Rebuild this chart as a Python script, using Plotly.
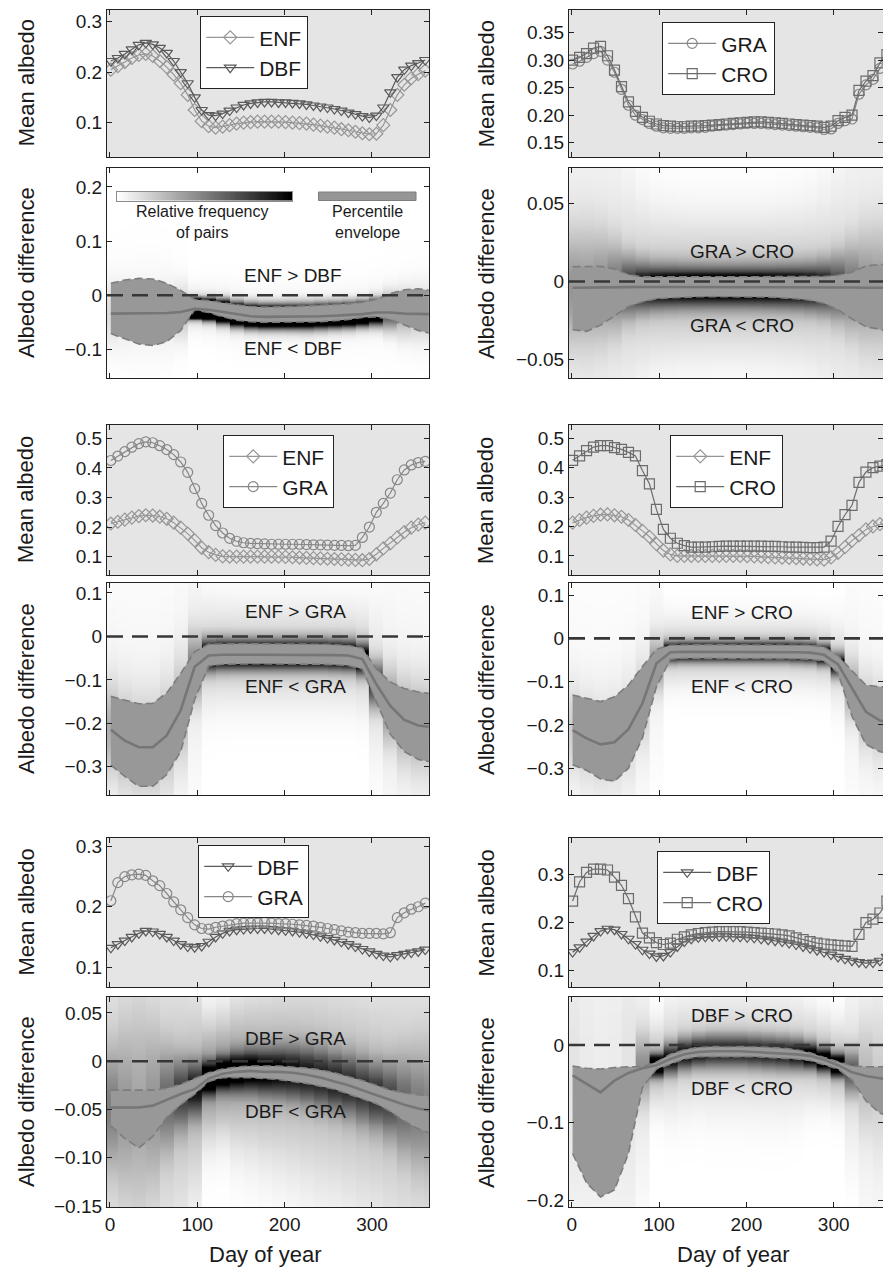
import numpy as np
import plotly.graph_objects as go

# ---------------- data ----------------
DAYS = [1, 9, 17, 25, 33, 41, 49, 57, 65, 73, 81, 89, 97, 105, 113, 121, 129, 137, 145, 153,
        161, 169, 177, 185, 193, 201, 209, 217, 225, 233, 241, 249, 257, 265, 273, 281, 289,
        297, 305, 313, 321, 329, 337, 345, 353, 361]

enf_1 = [0.205, 0.212, 0.220, 0.228, 0.234, 0.236, 0.232, 0.222, 0.210, 0.195, 0.178, 0.155, 0.125, 0.103, 0.093, 0.090, 0.092, 0.095, 0.098, 0.100, 0.101, 0.102, 0.102, 0.102, 0.102, 0.101, 0.100, 0.099, 0.098, 0.096, 0.094, 0.092, 0.090, 0.087, 0.085, 0.082, 0.079, 0.077, 0.078, 0.095, 0.125, 0.155, 0.175, 0.188, 0.196, 0.203]
dbf_1 = [0.222, 0.228, 0.236, 0.245, 0.254, 0.258, 0.255, 0.248, 0.238, 0.222, 0.200, 0.178, 0.150, 0.125, 0.115, 0.114, 0.118, 0.124, 0.130, 0.135, 0.138, 0.140, 0.141, 0.141, 0.140, 0.140, 0.139, 0.138, 0.136, 0.134, 0.132, 0.130, 0.127, 0.124, 0.120, 0.117, 0.113, 0.110, 0.114, 0.130, 0.160, 0.190, 0.205, 0.213, 0.218, 0.224]
gra_2 = [0.293, 0.298, 0.305, 0.312, 0.316, 0.300, 0.278, 0.247, 0.218, 0.200, 0.192, 0.185, 0.180, 0.177, 0.176, 0.176, 0.176, 0.177, 0.177, 0.178, 0.180, 0.181, 0.182, 0.183, 0.184, 0.185, 0.185, 0.185, 0.184, 0.183, 0.182, 0.181, 0.180, 0.179, 0.178, 0.177, 0.174, 0.175, 0.185, 0.190, 0.193, 0.238, 0.255, 0.265, 0.285, 0.300]
cro_2 = [0.300, 0.305, 0.312, 0.322, 0.325, 0.308, 0.282, 0.252, 0.224, 0.207, 0.196, 0.189, 0.184, 0.181, 0.180, 0.179, 0.179, 0.180, 0.180, 0.181, 0.182, 0.183, 0.184, 0.185, 0.186, 0.187, 0.188, 0.188, 0.187, 0.186, 0.185, 0.184, 0.183, 0.182, 0.181, 0.180, 0.178, 0.180, 0.190, 0.196, 0.200, 0.245, 0.262, 0.272, 0.295, 0.310]
enf_3 = [0.212, 0.218, 0.225, 0.232, 0.237, 0.240, 0.239, 0.235, 0.228, 0.215, 0.198, 0.178, 0.155, 0.130, 0.115, 0.106, 0.101, 0.100, 0.100, 0.100, 0.100, 0.100, 0.100, 0.100, 0.100, 0.099, 0.098, 0.097, 0.096, 0.095, 0.094, 0.093, 0.092, 0.091, 0.090, 0.089, 0.088, 0.092, 0.108, 0.128, 0.145, 0.165, 0.183, 0.198, 0.208, 0.215]
gra_3 = [0.425, 0.440, 0.455, 0.470, 0.482, 0.488, 0.485, 0.475, 0.462, 0.445, 0.420, 0.385, 0.330, 0.280, 0.240, 0.205, 0.180, 0.162, 0.152, 0.147, 0.145, 0.144, 0.143, 0.142, 0.142, 0.142, 0.142, 0.142, 0.141, 0.140, 0.140, 0.139, 0.138, 0.138, 0.137, 0.138, 0.165, 0.200, 0.250, 0.280, 0.315, 0.360, 0.393, 0.410, 0.418, 0.422]
enf_4 = [0.213, 0.222, 0.230, 0.236, 0.240, 0.241, 0.238, 0.233, 0.222, 0.205, 0.185, 0.165, 0.140, 0.118, 0.105, 0.100, 0.100, 0.100, 0.100, 0.100, 0.100, 0.100, 0.100, 0.100, 0.100, 0.099, 0.098, 0.097, 0.096, 0.095, 0.094, 0.093, 0.092, 0.091, 0.090, 0.088, 0.087, 0.095, 0.110, 0.130, 0.152, 0.170, 0.190, 0.200, 0.208, 0.213]
cro_4 = [0.425, 0.440, 0.458, 0.470, 0.475, 0.475, 0.468, 0.462, 0.452, 0.440, 0.390, 0.345, 0.258, 0.190, 0.160, 0.143, 0.135, 0.130, 0.130, 0.130, 0.131, 0.132, 0.133, 0.133, 0.133, 0.133, 0.133, 0.133, 0.132, 0.132, 0.131, 0.130, 0.130, 0.129, 0.128, 0.128, 0.130, 0.150, 0.200, 0.240, 0.272, 0.350, 0.385, 0.400, 0.405, 0.410]
dbf_5 = [0.132, 0.138, 0.144, 0.150, 0.156, 0.160, 0.159, 0.155, 0.150, 0.144, 0.138, 0.134, 0.133, 0.135, 0.142, 0.150, 0.156, 0.160, 0.162, 0.163, 0.164, 0.164, 0.164, 0.163, 0.162, 0.161, 0.160, 0.158, 0.156, 0.154, 0.151, 0.148, 0.145, 0.142, 0.138, 0.134, 0.130, 0.126, 0.122, 0.119, 0.117, 0.120, 0.122, 0.124, 0.126, 0.129]
gra_5 = [0.210, 0.240, 0.250, 0.253, 0.254, 0.252, 0.243, 0.235, 0.222, 0.208, 0.195, 0.182, 0.170, 0.164, 0.163, 0.166, 0.168, 0.170, 0.172, 0.173, 0.173, 0.173, 0.174, 0.173, 0.172, 0.172, 0.171, 0.170, 0.169, 0.168, 0.166, 0.164, 0.162, 0.160, 0.158, 0.157, 0.156, 0.156, 0.156, 0.155, 0.157, 0.182, 0.190, 0.196, 0.200, 0.206]
dbf_6 = [0.138, 0.148, 0.160, 0.172, 0.182, 0.187, 0.185, 0.176, 0.166, 0.155, 0.143, 0.135, 0.129, 0.130, 0.138, 0.150, 0.160, 0.166, 0.169, 0.170, 0.171, 0.171, 0.171, 0.170, 0.170, 0.169, 0.168, 0.166, 0.164, 0.162, 0.160, 0.157, 0.154, 0.150, 0.146, 0.142, 0.138, 0.133, 0.128, 0.124, 0.120, 0.117, 0.115, 0.116, 0.120, 0.128]
cro_6 = [0.245, 0.285, 0.305, 0.312, 0.312, 0.310, 0.295, 0.278, 0.250, 0.212, 0.178, 0.168, 0.158, 0.154, 0.157, 0.165, 0.170, 0.174, 0.177, 0.179, 0.180, 0.181, 0.181, 0.181, 0.181, 0.180, 0.179, 0.178, 0.177, 0.176, 0.174, 0.172, 0.168, 0.164, 0.160, 0.157, 0.155, 0.153, 0.152, 0.151, 0.150, 0.175, 0.200, 0.207, 0.220, 0.245]

# albedo difference: percentile envelope (hi/lo) and median, 16-day steps
DD = [1, 17, 33, 49, 65, 81, 97, 113, 129, 145, 161, 177, 193, 209, 225, 241, 257, 273, 289, 305, 321, 337, 353, 365]

hi_1 = [0.022, 0.028, 0.031, 0.030, 0.022, 0.009, -0.008, -0.010, -0.014, -0.018, -0.021, -0.022, -0.022, -0.021, -0.020, -0.019, -0.018, -0.016, -0.013, -0.008, 0.003, 0.010, 0.012, 0.009]
med_1 = [-0.034, -0.034, -0.034, -0.034, -0.033, -0.031, -0.025, -0.027, -0.031, -0.036, -0.039, -0.040, -0.040, -0.040, -0.040, -0.039, -0.038, -0.037, -0.035, -0.032, -0.032, -0.034, -0.035, -0.035]
lo_1 = [-0.071, -0.080, -0.090, -0.093, -0.086, -0.065, -0.027, -0.032, -0.040, -0.046, -0.049, -0.050, -0.050, -0.050, -0.050, -0.049, -0.047, -0.045, -0.041, -0.040, -0.045, -0.055, -0.065, -0.070]

hi_2 = [0.0095, 0.0098, 0.0098, 0.0080, 0.0045, 0.0030, 0.0030, 0.0030, 0.0030, 0.0030, 0.0030, 0.0030, 0.0030, 0.0030, 0.0030, 0.0030, 0.0030, 0.0030, 0.0032, 0.0040, 0.0060, 0.0100, 0.0110, 0.0110]
med_2 = [-0.0040, -0.0040, -0.0038, -0.0037, -0.0036, -0.0035, -0.0035, -0.0034, -0.0034, -0.0034, -0.0034, -0.0034, -0.0034, -0.0034, -0.0035, -0.0035, -0.0035, -0.0036, -0.0036, -0.0037, -0.0038, -0.0040, -0.0040, -0.0040]
lo_2 = [-0.031, -0.032, -0.028, -0.022, -0.016, -0.013, -0.011, -0.0105, -0.010, -0.0098, -0.0097, -0.0097, -0.0097, -0.0098, -0.010, -0.0105, -0.011, -0.012, -0.014, -0.018, -0.024, -0.029, -0.031, -0.032]

hi_3 = [-0.138, -0.146, -0.155, -0.154, -0.130, -0.085, -0.035, -0.018, -0.017, -0.017, -0.017, -0.017, -0.017, -0.017, -0.017, -0.018, -0.019, -0.021, -0.027, -0.075, -0.105, -0.120, -0.128, -0.131]
med_3 = [-0.215, -0.240, -0.255, -0.255, -0.228, -0.170, -0.070, -0.044, -0.042, -0.042, -0.042, -0.042, -0.042, -0.042, -0.042, -0.042, -0.043, -0.044, -0.052, -0.110, -0.160, -0.192, -0.205, -0.208]
lo_3 = [-0.296, -0.322, -0.345, -0.345, -0.318, -0.265, -0.145, -0.068, -0.064, -0.063, -0.063, -0.063, -0.063, -0.063, -0.063, -0.064, -0.065, -0.067, -0.075, -0.150, -0.225, -0.265, -0.283, -0.288]

hi_4 = [-0.131, -0.138, -0.146, -0.135, -0.108, -0.065, -0.025, -0.016, -0.015, -0.015, -0.015, -0.015, -0.015, -0.015, -0.015, -0.015, -0.015, -0.016, -0.020, -0.040, -0.075, -0.108, -0.112, -0.112]
med_4 = [-0.212, -0.231, -0.245, -0.240, -0.210, -0.150, -0.058, -0.032, -0.031, -0.031, -0.031, -0.031, -0.031, -0.031, -0.031, -0.031, -0.032, -0.033, -0.038, -0.060, -0.115, -0.170, -0.190, -0.193]
lo_4 = [-0.292, -0.305, -0.325, -0.330, -0.300, -0.230, -0.112, -0.048, -0.046, -0.046, -0.046, -0.046, -0.046, -0.046, -0.046, -0.046, -0.047, -0.048, -0.052, -0.080, -0.180, -0.245, -0.262, -0.266]

hi_5 = [-0.030, -0.030, -0.030, -0.030, -0.028, -0.024, -0.018, -0.012, -0.008, -0.006, -0.005, -0.005, -0.005, -0.006, -0.007, -0.009, -0.012, -0.016, -0.020, -0.025, -0.030, -0.033, -0.035, -0.036]
med_5 = [-0.048, -0.048, -0.048, -0.046, -0.040, -0.034, -0.029, -0.018, -0.013, -0.011, -0.010, -0.011, -0.011, -0.012, -0.014, -0.017, -0.021, -0.025, -0.030, -0.035, -0.040, -0.045, -0.049, -0.051]
lo_5 = [-0.067, -0.080, -0.090, -0.078, -0.058, -0.045, -0.034, -0.021, -0.017, -0.017, -0.017, -0.018, -0.019, -0.021, -0.023, -0.026, -0.029, -0.034, -0.039, -0.044, -0.052, -0.062, -0.070, -0.074]

hi_6 = [-0.027, -0.030, -0.031, -0.029, -0.028, -0.028, -0.022, -0.012, -0.006, -0.003, -0.002, -0.002, -0.002, -0.002, -0.003, -0.004, -0.006, -0.010, -0.016, -0.022, -0.027, -0.028, -0.028, -0.028]
med_6 = [-0.039, -0.050, -0.061, -0.046, -0.036, -0.030, -0.026, -0.018, -0.012, -0.009, -0.008, -0.008, -0.008, -0.009, -0.010, -0.011, -0.012, -0.014, -0.019, -0.026, -0.035, -0.040, -0.043, -0.045]
lo_6 = [-0.140, -0.178, -0.196, -0.187, -0.140, -0.055, -0.031, -0.024, -0.018, -0.015, -0.015, -0.015, -0.015, -0.015, -0.016, -0.017, -0.018, -0.020, -0.025, -0.031, -0.045, -0.072, -0.088, -0.092]

X_TICKS = [0, 100, 200, 300]

# ---------------- styling / layout ----------------
W, H = 883, 1270
FONT = "Liberation Sans, Arial, Helvetica, sans-serif"
INK = "#1a1a1a"

def fx(px):
    return px / W

def fy(py):
    return 1 - py / H

STY = {
    "ENF": ("diamond-open", "rgb(150,150,150)"),
    "DBF": ("triangle-down-open", "rgb(90,90,90)"),
    "GRA": ("circle-open", "rgb(135,135,135)"),
    "CRO": ("square-open", "rgb(108,108,108)"),
}

COLS = [(107, 429, [-3.4, 365.3]), (569, 883, [-3.1, 356.5])]
ROWS = [((9.5, 157), (168, 378)), ((425, 575), (583, 795)), ((838, 987), (997, 1207))]

M = "\u2212"
PANELS = [
    dict(row=0, col=0, a=("ENF", enf_1), b=("DBF", dbf_1), hi=hi_1, med=med_1, lo=lo_1,
         tr=[0.032, 0.324], tt=[0.1, 0.2, 0.3], tl=["0.1", "0.2", "0.3"],
         dr=[-0.153, 0.235], dt=[-0.1, 0, 0.1, 0.2], dl=[M + "0.1", "0", "0.1", "0.2"],
         k=1.6, g=2.5, f=0.45, leg=(200, 16), ann=(293, 275, 348)),
    dict(row=0, col=1, a=("GRA", gra_2), b=("CRO", cro_2), hi=hi_2, med=med_2, lo=lo_2,
         tr=[0.124, 0.392], tt=[0.15, 0.2, 0.25, 0.3, 0.35], tl=["0.15", "0.20", "0.25", "0.30", "0.35"],
         dr=[-0.062, 0.073], dt=[-0.05, 0, 0.05], dl=[M + "0.05", "0", "0.05"],
         k=1.6, g=1.0, f=0.75, leg=(662, 22), ann=(741.7, 251.7, 325)),
    dict(row=1, col=0, a=("ENF", enf_3), b=("GRA", gra_3), hi=hi_3, med=med_3, lo=lo_3,
         tr=[0.038, 0.545], tt=[0.1, 0.2, 0.3, 0.4, 0.5], tl=["0.1", "0.2", "0.3", "0.4", "0.5"],
         dr=[-0.365, 0.123], dt=[-0.3, -0.2, -0.1, 0, 0.1], dl=[M + "0.3", M + "0.2", M + "0.1", "0", "0.1"],
         k=2.0, g=1.2, f=0.75, leg=(223, 435), ann=(295, 611.7, 686.7)),
    dict(row=1, col=1, a=("ENF", enf_4), b=("CRO", cro_4), hi=hi_4, med=med_4, lo=lo_4,
         tr=[0.035, 0.545], tt=[0.1, 0.2, 0.3, 0.4, 0.5], tl=["0.1", "0.2", "0.3", "0.4", "0.5"],
         dr=[-0.362, 0.128], dt=[-0.3, -0.2, -0.1, 0, 0.1], dl=[M + "0.3", M + "0.2", M + "0.1", "0", "0.1"],
         k=2.0, g=1.2, f=0.75, leg=(670, 435), ann=(741.7, 612.7, 686.7)),
    dict(row=2, col=0, a=("DBF", dbf_5), b=("GRA", gra_5), hi=hi_5, med=med_5, lo=lo_5,
         tr=[0.067, 0.314], tt=[0.1, 0.2, 0.3], tl=["0.1", "0.2", "0.3"],
         dr=[-0.151, 0.0665], dt=[-0.15, -0.1, -0.05, 0, 0.05],
         dl=[M + "0.15", M + "0.10", M + "0.05", "0", "0.05"],
         k=0.9, g=0.75, f=0.6, leg=(198, 845), ann=(295, 1038.3, 1111.7)),
    dict(row=2, col=1, a=("DBF", dbf_6), b=("CRO", cro_6), hi=hi_6, med=med_6, lo=lo_6,
         tr=[0.065, 0.377], tt=[0.1, 0.2, 0.3], tl=["0.1", "0.2", "0.3"],
         dr=[-0.209, 0.062], dt=[-0.2, -0.1, 0], dl=[M + "0.2", M + "0.1", "0"],
         k=0.9, g=1.0, f=0.75, leg=(657, 851), ann=(741.7, 1015, 1088.3)),
]


def density(hi, med, lo, ygrid, k, g, f):
    hi, med, lo = np.asarray(hi), np.asarray(med), np.asarray(lo)
    s = np.maximum((hi - lo) / k, 1e-4)
    u = (ygrid[:, None] - med[None, :]) / s[None, :]
    pdf = (np.exp(-0.5 * u ** 2) + 0.25 * np.exp(-0.5 * (u / 3.5) ** 2)) / s[None, :]
    ref = f * pdf.max()
    return np.clip(pdf / ref, 0, 1) ** g


def sfx(i):
    return "" if i == 1 else str(i)


fig = go.Figure()
layout = dict(width=W, height=H, margin=dict(l=0, r=0, t=0, b=0, autoexpand=False),
              paper_bgcolor="white", plot_bgcolor="white",
              font=dict(family=FONT, color=INK), showlegend=True)
shapes, annotations = [], []

axis_common = dict(showgrid=False, zeroline=False, showline=True, mirror="ticks",
                   linecolor="#222", linewidth=1.2, ticks="inside", ticklen=5,
                   tickcolor="#222", tickwidth=1, tickfont=dict(size=19, color=INK, family=FONT))


def label(text, x, y, size, angle=0):
    return dict(text=text, x=fx(x), y=fy(y), xref="paper", yref="paper", showarrow=False,
                xanchor="center", yanchor="middle", textangle=angle,
                font=dict(size=size, color=INK, family=FONT))


for p, P in enumerate(PANELS):
    r, c = P["row"], P["col"]
    x0, x1, xr = COLS[c]
    (tt_, tb_), (dt_, db_) = ROWS[r]
    it, idf = 2 * p + 1, 2 * p + 2
    legname = "legend" + sfx(p + 1)

    # axes
    for i, (ya, yb), yrng, tv, tl, showx in [
        (it, (tt_, tb_), P["tr"], P["tt"], P["tl"], False),
        (idf, (dt_, db_), P["dr"], P["dt"], P["dl"], r == 2),
    ]:
        layout["xaxis" + sfx(i)] = dict(axis_common, domain=[fx(x0), fx(x1)], range=xr,
                                        tickvals=X_TICKS, showticklabels=showx,
                                        anchor="y" + sfx(i))
        layout["yaxis" + sfx(i)] = dict(axis_common, domain=[fy(yb), fy(ya)], range=yrng,
                                        tickvals=tv, ticktext=tl, anchor="x" + sfx(i))

    # gray background of mean albedo panel
    shapes.append(dict(type="rect", xref="x" + sfx(it) + " domain", yref="y" + sfx(it) + " domain",
                       x0=0, x1=1, y0=0, y1=1, fillcolor="#e5e5e5", line=dict(width=0), layer="below"))

    # mean albedo lines
    for name, vals in (P["a"], P["b"]):
        sym, col = STY[name]
        fig.add_trace(go.Scatter(x=DAYS, y=vals, name=name, mode="lines+markers",
                                 line=dict(color=col, width=1.2),
                                 marker=dict(symbol=sym, size=10, color=col, line=dict(width=1.2, color=col)),
                                 xaxis="x" + sfx(it), yaxis="y" + sfx(it), legend=legname,
                                 hoverinfo="skip"))

    layout[legname] = dict(x=fx(P["leg"][0]), y=fy(P["leg"][1]), xanchor="left", yanchor="top",
                           bgcolor="white", bordercolor="#222", borderwidth=1.2,
                           font=dict(size=21, color=INK, family=FONT), itemwidth=48,
                           tracegroupgap=0, traceorder="normal")

    # envelope fill
    xa, ya = "x" + sfx(idf), "y" + sfx(idf)
    fig.add_trace(go.Scatter(x=DD, y=P["lo"], mode="lines", line=dict(width=0, color="rgba(0,0,0,0)"),
                             xaxis=xa, yaxis=ya, showlegend=False, hoverinfo="skip"))
    fig.add_trace(go.Scatter(x=DD, y=P["hi"], mode="lines", line=dict(width=0, color="rgba(0,0,0,0)"),
                             fill="tonexty", fillcolor="rgb(152,152,152)",
                             xaxis=xa, yaxis=ya, showlegend=False, hoverinfo="skip"))
    # density of pairs
    ygrid = np.linspace(P["dr"][0], P["dr"][1], 220)
    Z = density(P["hi"], P["med"], P["lo"], ygrid, P["k"], P["g"], P["f"])
    fig.add_trace(go.Heatmap(x=DD, y=ygrid, z=Z, zmin=0, zmax=1, showscale=False,
                             colorscale=[[0, "rgba(0,0,0,0)"], [1, "rgba(0,0,0,1)"]],
                             xaxis=xa, yaxis=ya, hoverinfo="skip"))
    # envelope borders and median
    for arr in (P["lo"], P["hi"]):
        fig.add_trace(go.Scatter(x=DD, y=arr, mode="lines",
                                 line=dict(color="rgb(125,125,125)", width=1.6, dash="8px,4px"),
                                 xaxis=xa, yaxis=ya, showlegend=False, hoverinfo="skip"))
    fig.add_trace(go.Scatter(x=DD, y=P["med"], mode="lines",
                             line=dict(color="rgb(118,118,118)", width=2.6),
                             xaxis=xa, yaxis=ya, showlegend=False, hoverinfo="skip"))
    # zero line
    shapes.append(dict(type="line", xref=xa + " domain", yref=ya, x0=0, x1=1, y0=0, y1=0,
                       line=dict(color="rgb(55,55,55)", width=2.6, dash="16px,9px")))

    a_name, b_name = P["a"][0], P["b"][0]
    ax_, ay1, ay2 = P["ann"]
    annotations.append(label(f"{a_name} &gt; {b_name}", ax_, ay1, 19))
    annotations.append(label(f"{a_name} &lt; {b_name}", ax_, ay2, 19))

    # axis titles
    tx = 26 if c == 0 else 486
    annotations.append(label("Mean albedo", tx, (tt_ + tb_) / 2, 22, -90))
    annotations.append(label("Albedo difference", tx, (dt_ + db_) / 2, 22, -90))

for cx in (265, 733):
    annotations.append(label("Day of year", cx, 1254, 22))

# key inside the first difference panel
RAMP = [list(np.linspace(0, 1, 80))]
fig.add_trace(go.Heatmap(z=RAMP, zmin=0, zmax=1, showscale=False, xaxis="x13", yaxis="y13",
                         colorscale=[[0, "rgb(255,255,255)"], [1, "rgb(0,0,0)"]], hoverinfo="skip"))
layout["xaxis13"] = dict(domain=[fx(117), fx(292)], anchor="y13", showticklabels=False, ticks="",
                         showgrid=False, zeroline=False, showline=True, mirror=True,
                         linecolor="rgb(140,140,140)", linewidth=1)
layout["yaxis13"] = dict(domain=[fy(200.5), fy(192)], anchor="x13", showticklabels=False, ticks="",
                         showgrid=False, zeroline=False, showline=True, mirror=True,
                         linecolor="rgb(140,140,140)", linewidth=1)
shapes.append(dict(type="rect", xref="paper", yref="paper", x0=fx(318.5), x1=fx(416), y0=fy(200.5), y1=fy(192),
                   fillcolor="rgb(150,150,150)", line=dict(color="rgb(125,125,125)", width=1)))
annotations.append(label("Relative frequency<br>of pairs", 202, 222, 16))
annotations.append(label("Percentile<br>envelope", 367, 222, 16))

layout["shapes"] = shapes
layout["annotations"] = annotations
fig.update_layout(**layout)
fig.write_html("out.html", config={"displayModeBar": False},
               post_script="document.body.style.margin='0';document.body.style.overflow='hidden';")
